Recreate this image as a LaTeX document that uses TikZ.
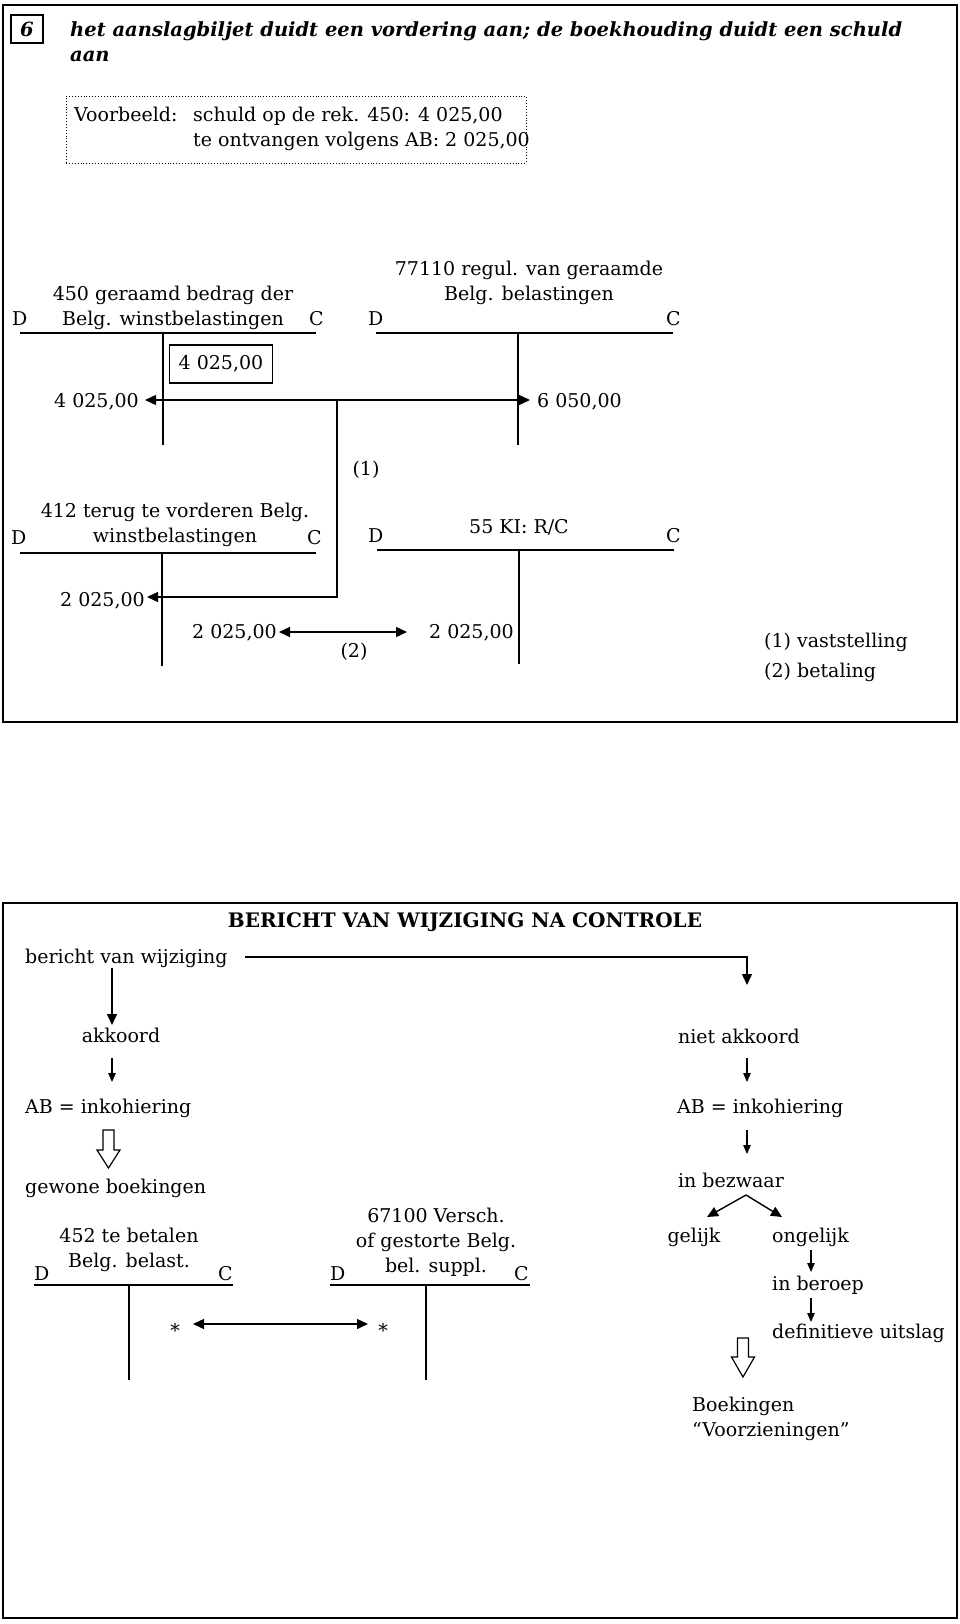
\documentclass[tikz,border=0pt]{standalone}
\usepackage{fontspec}
\setmainfont{DejaVu Serif}
\usetikzlibrary{arrows.meta}
\newcommand\bodyfont{\fontsize{19}{25}\selectfont}
\newcommand\ttlfont{\fontsize{19.5}{25}\selectfont\bfseries\itshape}
\newcommand\headfont{\fontsize{20}{25}\selectfont\bfseries}
\tikzset{
  frame/.style={line width=2.8pt},
  tl/.style={line width=1.5pt},
  txt/.style={inner sep=0pt, font=\bodyfont, text height=14pt, text depth=4pt},
  mtxt/.style={inner sep=0pt, font=\bodyfont, align=center},
  arr/.style={line width=1.4pt, -{Triangle[length=11pt,width=10pt]}},
  darr/.style={line width=1.4pt, {Triangle[length=11pt,width=10pt]}-{Triangle[length=11pt,width=10pt]}},
  sarr/.style={line width=1.2pt, -{Triangle[length=9pt,width=7.5pt]}},
  hollow/.style={line width=1.2pt, fill=white}
}
\begin{document}
\begin{tikzpicture}[x=1pt,y=-1pt]
\useasboundingbox (0,0) rectangle (960,1624);
% ===== top frame =====
\draw[frame] (3,5) rectangle (957,722);
\node[draw, line width=1.3pt, minimum width=32pt, minimum height=28pt, inner sep=0pt, font=\ttlfont] (six) at (27,29) {6};
\node[inner sep=0pt, font=\ttlfont, align=left, anchor=west] (title) at (70,41.5)
  {het aanslagbiljet duidt een vordering aan; de boekhouding duidt een schuld\\aan};
\node[draw, dotted, line width=0.9pt, minimum width=460pt, minimum height=67pt, inner sep=0pt] (vb) at (296,129.5) {};
\node[txt, anchor=west] (vb1) at (74,117) {Voorbeeld:};
\node[txt, anchor=west] (vb2) at (193,117) {schuld op de rek. 450: 4 025,00};
\node[txt, anchor=west] (vb3) at (193,142) {te ontvangen volgens AB: 2 025,00};
% account 450
\node[mtxt] (h450) at (173,307.5) {450 geraamd bedrag der\\Belg. winstbelastingen};
\node[txt, anchor=west] (d450) at (12,320) {D};
\node[txt, anchor=west] (c450) at (309,320) {C};
\draw[tl] (20,333) -- (316,333) (163,333) -- (163,445);
% account 77110
\node[mtxt] (h771) at (529,282.5) {77110 regul. van geraamde\\Belg. belastingen};
\node[txt, anchor=west] (d771) at (368,320) {D};
\node[txt, anchor=west] (c771) at (666,320) {C};
\draw[tl] (376,333) -- (673,333) (518,333) -- (518,445);
\node[draw, line width=1.3pt, minimum width=103pt, minimum height=38pt, inner sep=0pt, font=\bodyfont] (b4025) at (221,364) {4 025,00};
\node[txt, anchor=east] (l4025) at (139,402) {4 025,00};
\node[txt, anchor=west] (r6050) at (537,402) {6 050,00};
\coordinate (j1) at (337,400);
\coordinate (j2) at (337,597);
\coordinate (t1) at (145,400);
\coordinate (t2) at (530,400);
\coordinate (t3) at (147,597);
\draw[arr] (j1) -- (t1);
\draw[arr] (j1) -- (t2);
\draw[arr] (j1) -- (j2) -- (t3);
\node[txt] (one) at (366,470) {(1)};
% account 412
\node[mtxt] (h412) at (175,524.5) {412 terug te vorderen Belg.\\winstbelastingen};
\node[txt, anchor=west] (d412) at (11,539) {D};
\node[txt, anchor=west] (c412) at (307,539) {C};
\draw[tl] (20,553) -- (316,553) (162,553) -- (162,666);
% account 55
\node[txt] (h55) at (519,528) {55 KI: R/C};
\node[txt, anchor=west] (d55) at (368,537) {D};
\node[txt, anchor=west] (c55) at (666,537) {C};
\draw[tl] (377,550) -- (674,550) (519,550) -- (519,664);
\node[txt, anchor=east] (l2025a) at (145,601) {2 025,00};
\node[txt, anchor=east] (l2025b) at (277,633) {2 025,00};
\node[txt, anchor=west] (r2025) at (429,633) {2 025,00};
\coordinate (d1) at (279,632);
\coordinate (d2) at (407,632);
\draw[darr] (d1) -- (d2);
\node[txt] (two) at (354,652) {(2)};
\node[txt, anchor=west] (lg1) at (764,642) {(1) vaststelling};
\node[txt, anchor=west] (lg2) at (764,672) {(2) betaling};
% ===== bottom frame =====
\draw[frame] (3,903) rectangle (957,1618);
\node[inner sep=0pt, font=\headfont] (bt) at (465,922) {BERICHT VAN WIJZIGING NA CONTROLE};
\node[txt, anchor=west] (bvw) at (25,958) {bericht van wijziging};
\coordinate (bs) at (245,957);
\coordinate (bc) at (747,957);
\coordinate (be) at (747,985);
\draw[arr] (bs) -- (bc) -- (be);
\coordinate (a1s) at (112,968);
\coordinate (a1e) at (112,1025);
\draw[arr] (a1s) -- (a1e);
\node[txt] (ak) at (121,1037) {akkoord};
\coordinate (a2s) at (112,1058);
\coordinate (a2e) at (112,1082);
\draw[sarr] (a2s) -- (a2e);
\node[txt, anchor=west] (ab1) at (25,1108) {AB = inkohiering};
\draw[hollow] (103,1130) -- (114,1130) -- (114,1150) -- (120,1150) -- (108.5,1168) -- (97,1150) -- (103,1150) -- cycle;
\node[txt, anchor=west] (gb) at (25,1188) {gewone boekingen};
% account 452
\node[mtxt] (h452) at (129,1250) {452 te betalen\\Belg. belast.};
\node[txt, anchor=west] (d452) at (34,1275) {D};
\node[txt, anchor=west] (c452) at (218,1275) {C};
\draw[tl] (34,1285) -- (233,1285) (129,1285) -- (129,1380);
% account 67100
\node[mtxt] (h671) at (436,1242) {67100 Versch.\\of gestorte Belg.\\bel. suppl.};
\node[txt, anchor=west] (d671) at (330,1275) {D};
\node[txt, anchor=west] (c671) at (514,1275) {C};
\draw[tl] (330,1285) -- (530,1285) (426,1285) -- (426,1380);
\node[inner sep=0pt, font=\bodyfont] (st1) at (175,1330) {*};
\node[inner sep=0pt, font=\bodyfont] (st2) at (383,1330) {*};
\coordinate (s1) at (193,1324);
\coordinate (s2) at (368,1324);
\draw[darr] (s1) -- (s2);
% right branch
\node[txt] (nak) at (739,1038) {niet akkoord};
\coordinate (r1s) at (747,1058);
\coordinate (r1e) at (747,1082);
\draw[sarr] (r1s) -- (r1e);
\node[txt, anchor=west] (ab2) at (677,1108) {AB = inkohiering};
\coordinate (r2s) at (747,1130);
\coordinate (r2e) at (747,1154);
\draw[sarr] (r2s) -- (r2e);
\node[txt] (bez) at (731,1182) {in bezwaar};
\coordinate (apx) at (746,1195);
\coordinate (gl) at (707,1217);
\coordinate (ogl) at (782,1217);
\draw[arr] (apx) -- (gl);
\draw[arr] (apx) -- (ogl);
\node[txt] (gel) at (694,1237) {gelijk};
\node[txt, anchor=west] (ong) at (772,1237) {ongelijk};
\coordinate (r3s) at (811,1250);
\coordinate (r3e) at (811,1272);
\draw[sarr] (r3s) -- (r3e);
\node[txt, anchor=west] (ber) at (772,1285) {in beroep};
\coordinate (r4s) at (811,1298);
\coordinate (r4e) at (811,1322);
\draw[sarr] (r4s) -- (r4e);
\node[txt, anchor=west] (def) at (772,1333) {definitieve uitslag};
\draw[hollow] (737.5,1338) -- (748.5,1338) -- (748.5,1357) -- (754.5,1357) -- (743,1377) -- (731.5,1357) -- (737.5,1357) -- cycle;
\node[mtxt, align=left, anchor=west] (bk) at (692,1418.5) {Boekingen\\“Voorzieningen”};
\end{tikzpicture}
\end{document}
